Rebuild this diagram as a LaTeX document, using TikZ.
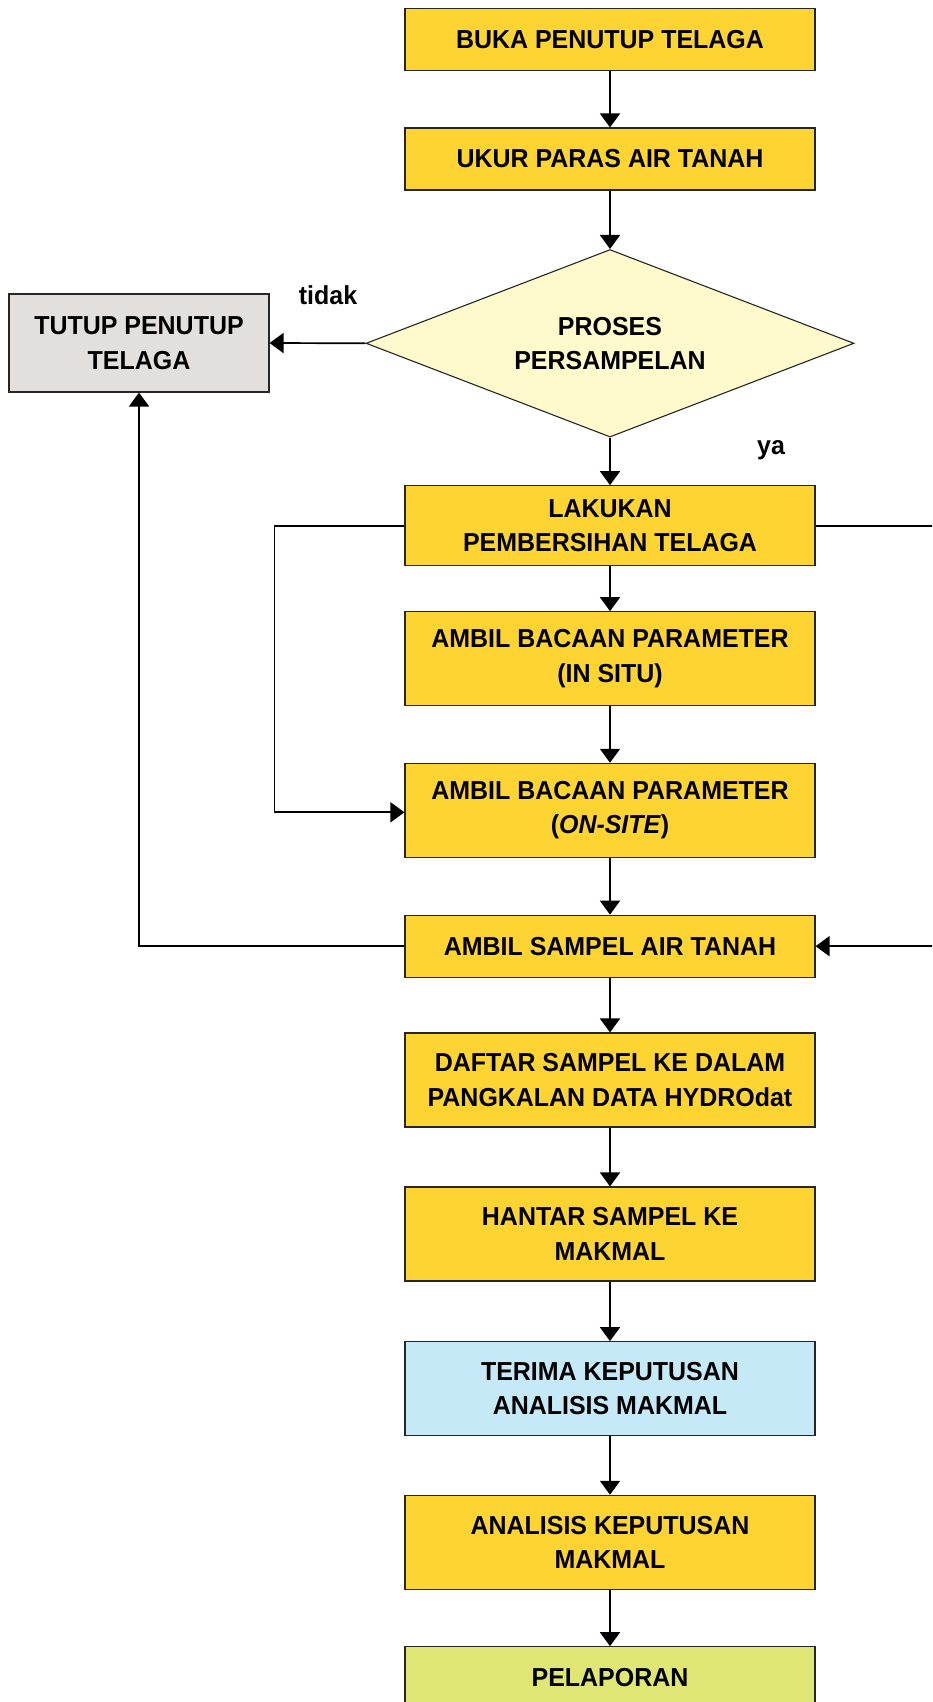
\documentclass[tikz,border=0pt]{standalone}
\usepackage{fontspec}
\setmainfont{Liberation Sans}[FakeStretch=0.96]
\usetikzlibrary{shapes.geometric,arrows.meta}
\definecolor{boxyellow}{HTML}{FDD432}
\definecolor{dialight}{HTML}{FFFACC}
\definecolor{boxgray}{HTML}{E3DFDD}
\definecolor{boxblue}{HTML}{C6E9F8}
\definecolor{boxgreen}{HTML}{DFE674}
\begin{document}
\begin{tikzpicture}[x=1pt,y=-1pt,
  txt/.style={font=\bfseries\fontsize{26}{34.5}\selectfont, align=center},
  box/.style={txt, draw=black!85, line width=1.1pt, fill=boxyellow, minimum width=410pt, inner sep=0pt},
  conn/.style={line width=1.7pt, -{Triangle[width=20pt,length=14pt]}},
  lbl/.style={font=\bfseries\fontsize{26}{30}\selectfont, inner sep=0pt}]
\clip (0,0) rectangle (932,1702);
\fill[white] (0,0) rectangle (932,1702);
\node[box, minimum height=62pt] (b1) at (610,39.6) {BUKA PENUTUP TELAGA};
\node[box, minimum height=62pt] (b2) at (610,159) {UKUR PARAS AIR TANAH};
\node[diamond, aspect=2.6, txt, draw=black!85, line width=1.1pt, fill=dialight, minimum width=488pt, minimum height=187.5pt, inner sep=0pt] (dia) at (610,343.3) {PROSES\\PERSAMPELAN};
\node[box, fill=boxgray, minimum width=260pt, minimum height=98pt] (tutup) at (139,343) {TUTUP PENUTUP\\TELAGA};
\node[lbl] (tidak) at (328,295) {tidak};
\node[lbl] (ya) at (771,450) {ya};
\node[box, minimum height=80pt] (lak) at (610,525.7) {LAKUKAN\\PEMBERSIHAN TELAGA};
\node[box, minimum height=94pt] (insitu) at (610,658.7) {AMBIL BACAAN PARAMETER\\(IN SITU)};
\node[box, minimum height=94pt] (onsite) at (610,810.3) {AMBIL BACAAN PARAMETER\\(\textit{ON-SITE})};
\node[box, minimum height=62pt] (sampel) at (610,946.2) {AMBIL SAMPEL AIR TANAH};
\node[box, minimum height=94pt] (daftar) at (610,1080) {DAFTAR SAMPEL KE DALAM\\PANGKALAN DATA HYDROdat};
\node[box, minimum height=94pt] (hantar) at (610,1234) {HANTAR SAMPEL KE\\MAKMAL};
\node[box, fill=boxblue, minimum height=94pt] (terima) at (610,1388.7) {TERIMA KEPUTUSAN\\ANALISIS MAKMAL};
\node[box, minimum height=94pt] (anal) at (610,1542.3) {ANALISIS KEPUTUSAN\\MAKMAL};
\node[box, fill=boxgreen, minimum height=62pt] (lapor) at (610,1677.7) {PELAPORAN};
\draw[conn] (b1) -- (b2);
\draw[conn] (b2) -- (dia);
\draw[conn] (dia.west) -- (tutup.east);
\draw[conn] (dia.south) -- (lak.north);
\draw[conn] (lak) -- (insitu);
\draw[conn] (insitu) -- (onsite);
\draw[conn] (onsite) -- (sampel);
\draw[conn] (sampel) -- (daftar);
\draw[conn] (daftar) -- (hantar);
\draw[conn] (hantar) -- (terima);
\draw[conn] (terima) -- (anal);
\draw[conn] (anal) -- (lapor);
\draw[conn] (lak.west) -- ++(-130,0) |- ([yshift=-2pt]onsite.west);
\draw[conn] (lak.east) -- ++(125,0) |- (sampel.east);
\draw[conn] (sampel.west) -| (tutup.south);
\end{tikzpicture}
\end{document}
